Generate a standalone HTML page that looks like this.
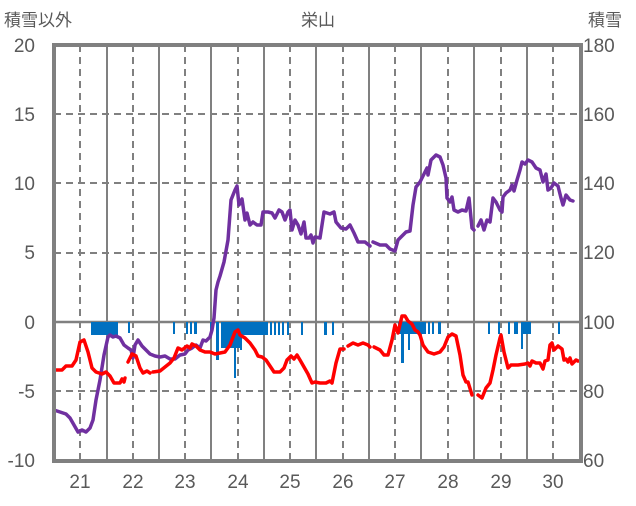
<!DOCTYPE html>
<html><head><meta charset="utf-8"><style>
body{margin:0;background:#fff;}
svg text{font-family:"Liberation Sans","Noto Sans CJK JP",sans-serif;fill:#595959;}
</style></head><body>
<svg width="636" height="501" viewBox="0 0 636 501" xmlns="http://www.w3.org/2000/svg">
<rect width="636" height="501" fill="#fff"/>
<g stroke="#808080" stroke-width="2" fill="none">
<path d="M107 45V461M159 45V461M211 45V461M264 45V461M316 45V461M369 45V461M421 45V461M474 45V461M527 45V461"/>
</g>
<g stroke="#808080" stroke-width="2" stroke-dasharray="7,5" fill="none">
<path d="M80 45V461M133 45V461M185 45V461M238 45V461M290 45V461M343 45V461M395 45V461M448 45V461M501 45V461M553 45V461"/>
<path d="M54 114H581M54 183H581M54 253H581M54 391H581"/>
</g>
<path d="M54 322H581" stroke="#808080" stroke-width="2.5"/>
<g fill="#0070c0">
<rect x="91" y="322" width="27" height="13"/>
<rect x="128" y="322" width="2" height="11"/>
<rect x="173" y="322" width="2" height="12"/>
<rect x="186" y="322" width="2" height="12"/><rect x="190" y="322" width="2" height="12"/><rect x="194" y="322" width="3" height="12"/>
<rect x="210" y="322" width="2" height="14"/>
<rect x="216" y="322" width="3" height="38"/>
<rect x="221" y="322" width="20" height="26"/>
<rect x="234" y="322" width="2" height="56"/>
<rect x="240" y="322" width="2" height="28"/>
<rect x="242" y="322" width="26" height="13"/>
<rect x="270" y="322" width="2" height="13"/><rect x="274" y="322" width="2" height="13"/><rect x="278" y="322" width="2" height="13"/><rect x="282" y="322" width="2" height="13"/><rect x="287" y="322" width="2" height="13"/><rect x="301" y="322" width="2" height="13"/>
<rect x="324" y="322" width="3" height="13"/><rect x="332" y="322" width="2" height="13"/>
<rect x="398" y="322" width="16" height="12"/>
<rect x="401" y="322" width="3" height="41"/>
<rect x="408" y="322" width="2" height="28"/>
<rect x="414" y="322" width="12" height="12"/>
<rect x="428" y="322" width="2" height="12"/><rect x="432" y="322" width="2" height="12"/><rect x="438" y="322" width="3" height="12"/>
<rect x="488" y="322" width="2" height="12"/><rect x="498" y="322" width="2" height="12"/>
<rect x="508" y="322" width="2" height="12"/><rect x="514" y="322" width="4" height="12"/><rect x="521" y="322" width="10" height="12"/>
<rect x="521" y="322" width="2" height="27"/>
<rect x="558" y="322" width="2" height="12"/>
</g>
<g fill="none" stroke-width="3.5" stroke-linejoin="round" stroke-linecap="round">
<polyline stroke="#7030a0" points="54,410 60,412 66,414 70,418 74,425 78,432 82,430 86,432 90,428 93,420 96,400 100,380 104,355 108,337 110,335 113,337 116,336 120,338 124,345 128,348 131,350 133,358 135,345 138,340 142,346 146,350 150,354 155,356 160,357 165,356 170,359 175,359 180,355 185,354 188,350 192,348 196,345 200,348 203,340 206,341 210,337 212,330 214,318 216,290 218,282 220,276 224,262 228,240 231,200 235,190 237,186 239,205 242,199 245,220 247,213 250,225 253,222 257,225 261,225 263,212 268,212 272,213 275,218 279,210 282,212 285,220 288,212 290,210 292,230 295,220 298,225 301,234 304,222 306,238 309,238 311,235 313,243 315,237 320,238 324,212 330,214 334,212 336,222 341,228 346,229 350,225 354,233 358,242 365,242 370,246"/>
<polyline stroke="#7030a0" points="373,242 380,245 386,245 390,249 395,251 398,240 402,236 406,232 410,231 413,205 416,187 420,182 424,174 427,168 428,175 431,160 436,155 440,157 443,165 446,178 447,198 450,202 452,197 454,210 458,212 462,210 466,211 469,198 472,228 474,230"/>
<polyline stroke="#7030a0" points="478,226 481,220 484,230 487,220 490,222 493,198 496,202 500,210 502,212 503,197 506,193 510,190 512,185 514,191 517,180 520,170 522,162 525,164 528,160 532,162 536,168 540,170 543,182 546,174 548,190 551,188 554,183 558,186 561,198 563,205 566,195 570,200 573,201"/>
<polyline stroke="#ff0000" points="54,370 62,370 66,366 72,366 76,360 80,342 84,340 88,352 92,368 96,372 102,374 106,372 110,376 114,383 120,383 122,379 124,382 125,378"/>
<polyline stroke="#ff0000" points="128,362 132,354 136,356 140,368 143,373 147,371 150,373"/>
<polyline stroke="#ff0000" points="153,372 160,371 165,367 170,363 174,358 178,348 182,350 187,346 190,348 192,344 196,346 200,350 205,352 210,352 215,354 225,352 230,345 235,332 238,330 240,335 245,338 250,343 255,350 258,356 262,357 266,360 270,366 274,372 280,372 284,368 287,360 291,356 294,359 297,355 300,360 304,367 308,374 312,383 315,382 320,383 326,383 330,381 332,383 336,363 340,349 344,349"/>
<polyline stroke="#ff0000" points="348,346 353,343 358,345 363,343 368,345 370,347"/>
<polyline stroke="#ff0000" points="374,347 380,350 384,355 388,355 392,340 395,325 398,333 402,316 405,316 408,321 412,324 415,330 418,332 420,335 423,345 428,352 434,354 440,352 444,347 448,337 452,334 456,336 460,355 463,375 466,382 468,382 472,395"/>
<polyline stroke="#ff0000" points="478,395 482,398 486,388 490,383 493,370 496,355 500,338 501,335 504,352 508,368 511,365 518,365 525,364 528,363 530,366 532,361 536,363 540,363 543,369 545,361 548,360 550,345 552,343 554,350 558,346 562,349 564,360 566,359 568,362 570,358 572,364 576,360 578,361"/>
</g>
<rect x="54" y="45" width="527" height="416" fill="none" stroke="#808080" stroke-width="4"/>
<g font-size="19" text-anchor="end">
<text x="35" y="52">20</text><text x="35" y="121">15</text><text x="35" y="190">10</text><text x="35" y="259">5</text><text x="35" y="329">0</text><text x="35" y="398">-5</text><text x="35" y="467">-10</text>
</g>
<g font-size="19" text-anchor="start">
<text x="583" y="52">180</text><text x="583" y="121">160</text><text x="583" y="190">140</text><text x="583" y="259">120</text><text x="583" y="329">100</text><text x="583" y="398">80</text><text x="583" y="467">60</text>
</g>
<g font-size="19" text-anchor="middle">
<text x="80" y="488">21</text><text x="133" y="488">22</text><text x="185" y="488">23</text><text x="238" y="488">24</text><text x="290" y="488">25</text><text x="343" y="488">26</text><text x="395" y="488">27</text><text x="448" y="488">28</text><text x="501" y="488">29</text><text x="553" y="488">30</text>
</g>
<text x="4" y="26" font-size="17">積雪以外</text>
<text x="318" y="26" font-size="17" text-anchor="middle">栄山</text>
<text x="588" y="26" font-size="17">積雪</text>
</svg>
</body></html>
